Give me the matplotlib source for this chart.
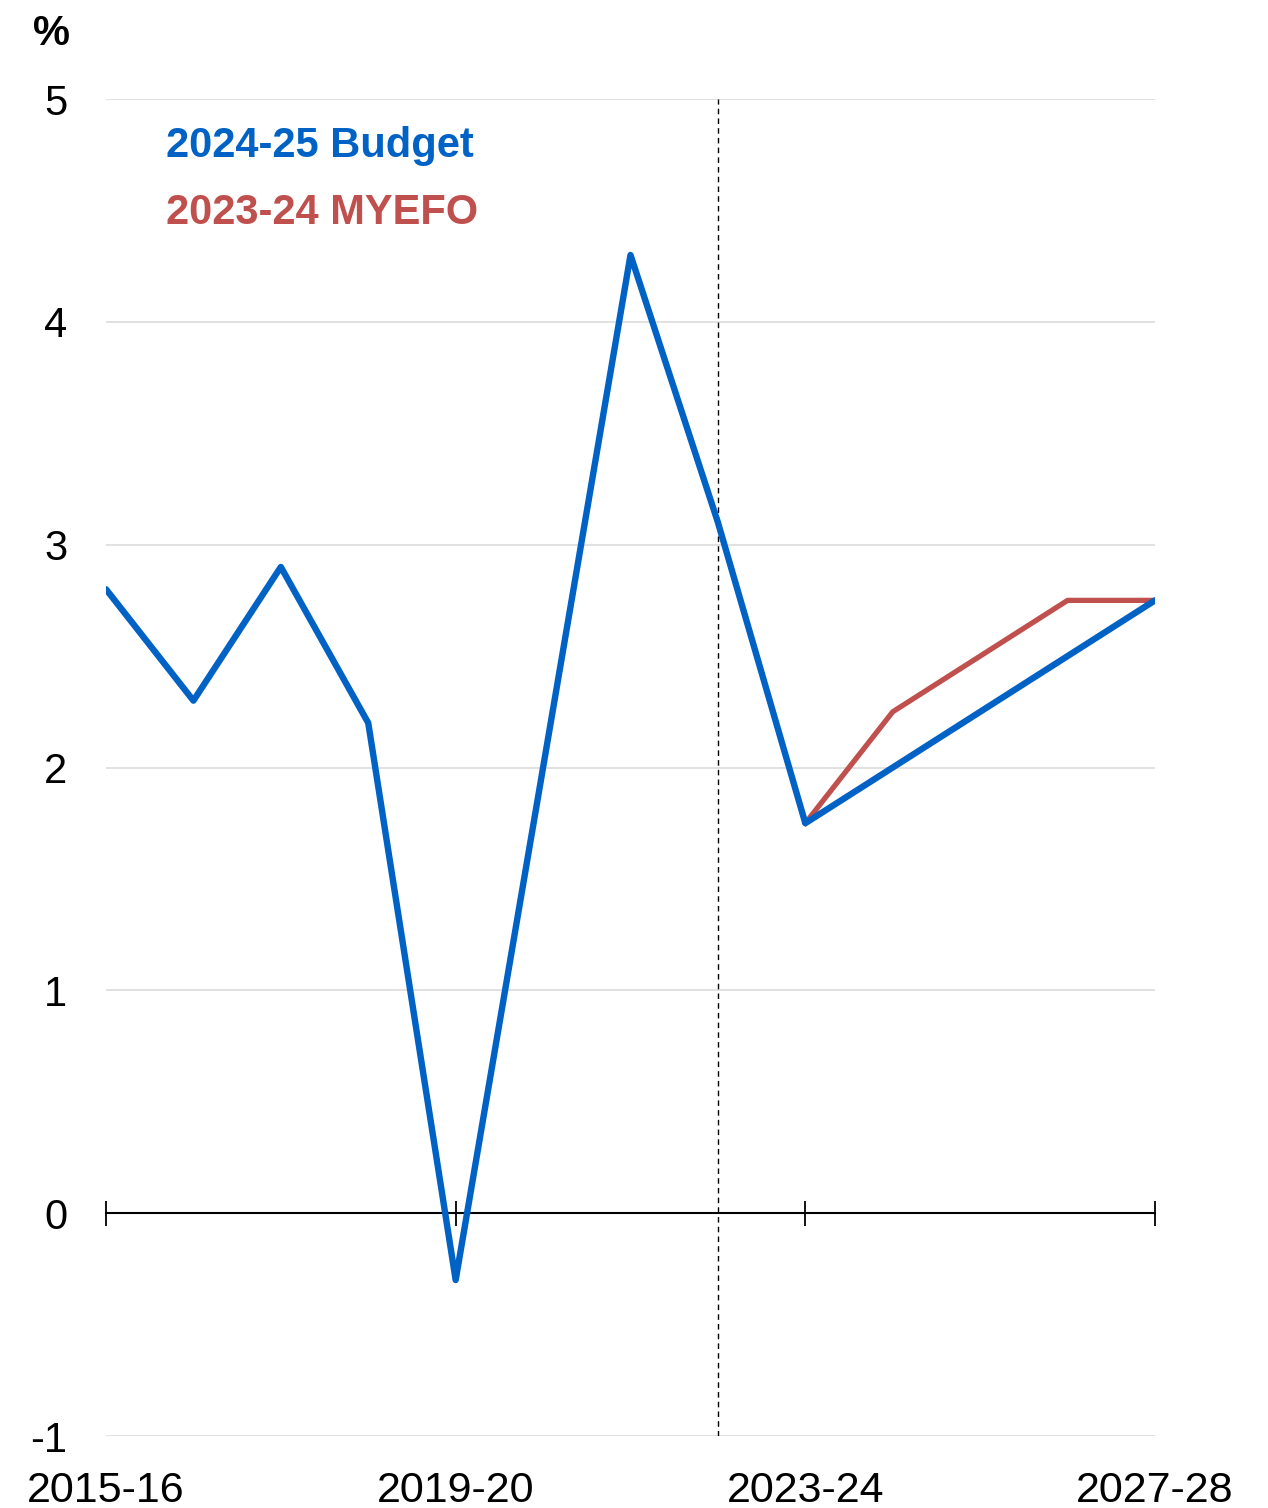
import matplotlib
matplotlib.use("Agg")
import matplotlib.pyplot as plt

plt.rcParams['font.family'] = ['Liberation Sans', 'DejaVu Sans']

years = ["2015-16", "2016-17", "2017-18", "2018-19", "2019-20", "2020-21",
         "2021-22", "2022-23", "2023-24", "2024-25", "2025-26", "2026-27", "2027-28"]
budget = [2.8, 2.3, 2.9, 2.2, -0.3, 2.0, 4.3, 3.1, 1.75, 2.0, 2.25, 2.5, 2.75]
myefo_years = ["2023-24", "2024-25", "2025-26", "2026-27", "2027-28"]
myefo = [1.75, 2.25, 2.5, 2.75, 2.75]
tick_labels = ["2015-16", "2019-20", "2023-24", "2027-28"]
y_ticks = [-1, 0, 1, 2, 3, 4, 5]
forecast_start = "2022-23"

BLUE = "#0062C4"
RED = "#C0504D"

fig = plt.figure(figsize=(12.68, 15.08), dpi=100)
ax = fig.add_axes([106/1268, 1 - 1436/1508, (1155-106)/1268, (1436-99)/1508])

xi = {y: i for i, y in enumerate(years)}

for yv in y_ticks:
    if yv != 0:
        ax.axhline(yv, color="#D9D9D9", lw=1.1, zorder=0)

ax.axvline(xi[forecast_start], color="black", lw=1.0, ls=(0, (4, 3)), zorder=1)

ax.plot([xi[y] for y in myefo_years], myefo, color=RED, lw=3.8,
        solid_joinstyle="miter", zorder=3)
ax.plot([xi[y] for y in years], budget, color=BLUE, lw=4.6,
        solid_capstyle="round", solid_joinstyle="round", zorder=4)

ax.set_xlim(0, len(years) - 1)
ax.set_ylim(-1, 5)

for s in ["left", "right", "top"]:
    ax.spines[s].set_visible(False)
ax.spines["bottom"].set_position(("data", 0))
ax.spines["bottom"].set_linewidth(1.5)
ax.spines["bottom"].set_zorder(2)

ax.set_xticks([xi[t] for t in tick_labels])
ax.tick_params(axis="x", direction="inout", length=18, width=1.3,
               labelbottom=False)
ax.set_yticks(y_ticks)
ax.set_yticklabels([str(v) for v in y_ticks])
ax.tick_params(axis="y", length=0, pad=28, labelsize=30)

sec = ax.secondary_xaxis(0)
sec.set_xticks([xi[t] for t in tick_labels])
sec.set_xticklabels(tick_labels)
sec.tick_params(length=0, pad=25, labelsize=31)
sec.spines["bottom"].set_visible(False)

ax.text(0.057, 0.965, "2024-25 Budget", transform=ax.transAxes, color=BLUE,
        fontsize=30, fontweight="bold", va="center", ha="left")
ax.text(0.057, 0.915, "2023-24 MYEFO", transform=ax.transAxes, color=RED,
        fontsize=30, fontweight="bold", va="center", ha="left")

fig.text(33/1268, 1 - 34/1508, "%", fontsize=30, fontweight="bold",
         va="center", ha="left")

fig.savefig("out.png", dpi=100)
